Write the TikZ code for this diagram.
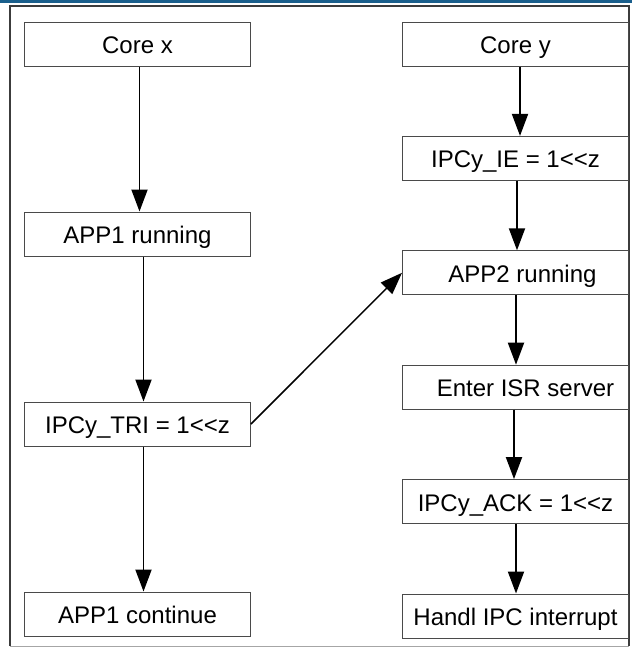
\documentclass[tikz,border=0pt]{standalone}
\usepackage{fontspec}
\setmainfont{Liberation Sans}
\usetikzlibrary{arrows.meta,positioning}
\definecolor{ink}{HTML}{000000}
\definecolor{boxedge}{HTML}{4A4A4A}
\definecolor{frameedge}{HTML}{3C3C3C}
\definecolor{framelow}{HTML}{A6A6A6}
\definecolor{band}{HTML}{1A5F8C}

\begin{document}
\begin{tikzpicture}[
  x=1pt, y=1pt,
  font=\fontsize{24}{28}\selectfont,
  flow/.style={-{Triangle[length=22pt,width=16pt]}, draw=ink, line width=1.9pt},
  box/.style={draw=boxedge, line width=1pt, fill=white, minimum width=226pt,
              minimum height=44pt, inner sep=0pt, align=center,
              text height=22pt, text depth=3pt}
]
\useasboundingbox (0,0) rectangle (632,-648);

% Page band and frame.
\fill[band] (0,0) rectangle (632,-2.5);
\draw[frameedge, line width=1.5pt] (10,-646) -- (10,-6) -- (629,-6) -- (629,-646);
\draw[framelow, line width=1pt] (10,-646) -- (629,-646);

% Core x side.
\node[box] (corex) at (137.5,-44) {Core x};
\node[box, below=145pt of corex] (app1run) {APP1 running};
\node[box, below=145pt of app1run] (ipctri) {IPCy\_TRI = 1<{}<z};
\node[box, below=145pt of ipctri] (app1cont) {APP1 continue};

\draw[flow] ([xshift=2pt]corex.south) -- ([xshift=2pt]app1run.north);
\draw[flow] ([xshift=6pt]app1run.south) -- ([xshift=6pt]ipctri.north);
\draw[flow] ([xshift=6pt]ipctri.south) -- ([xshift=6pt]app1cont.north);

% Core y side.
\node[box] (corey) at (515.5,-44) {Core y};
\node[box, below=69.4pt of corey] (ipcie) {IPCy\_IE = 1<{}<z};
\node[box, below=69.4pt of ipcie] (app2run) {\hspace*{14pt}APP2 running};
\node[box, below=69.4pt of app2run] (isr) {\hspace*{20pt}Enter ISR server};
\node[box, below=69.4pt of isr] (ipcack) {IPCy\_ACK = 1<{}<z};
\node[box, below=69.4pt of ipcack] (handl) {Handl IPC interrupt};

\draw[flow] ([xshift=4.5pt]corey.south) -- ([xshift=4.5pt]ipcie.north);
\draw[flow] ([xshift=1.5pt]ipcie.south) -- ([xshift=1.5pt]app2run.north);
\draw[flow] ([xshift=0.5pt]app2run.south) -- ([xshift=0.5pt]isr.north);
\draw[flow] ([xshift=-1.5pt]isr.south) -- ([xshift=-1.5pt]ipcack.north);
\draw[flow] ([xshift=0.5pt]ipcack.south) -- ([xshift=0.5pt]handl.north);

% Trigger from x to y.
\draw[flow, line width=1.5pt] (ipctri.east) -- (app2run.west);

\end{tikzpicture}
\end{document}
